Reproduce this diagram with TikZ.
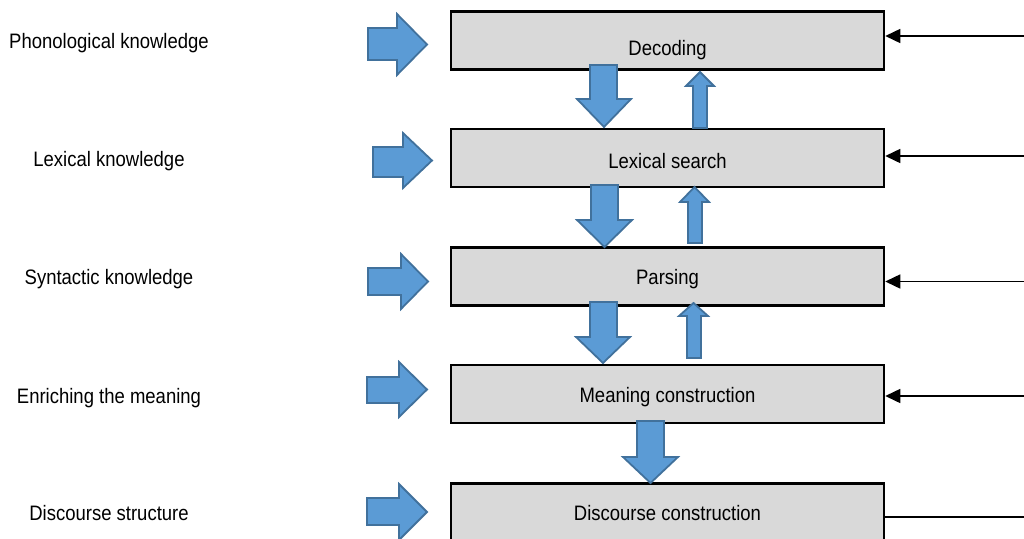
\documentclass[tikz,border=0pt]{standalone}
\usepackage{fontspec}
\setmainfont{Liberation Sans}
\usepackage{graphicx}
\usetikzlibrary{arrows.meta}
\definecolor{boxgray}{HTML}{D9D9D9}
\definecolor{arrowfill}{HTML}{5B9BD5}
\definecolor{arrowedge}{HTML}{41719C}
\newcommand\vs[1]{\scalebox{1}[1.13]{#1}}
\begin{document}
\begin{tikzpicture}[x=1pt,y=-1pt,
  box/.style={draw=black, line width=2.5pt, fill=boxgray, minimum width=433pt,
    minimum height=58pt, inner sep=0pt, text depth=0pt,
    font=\fontsize{18.5}{22}\selectfont},
  lbl/.style={anchor=base, inner sep=0pt, font=\fontsize{18.5}{22}\selectfont},
  barrow/.style={draw=arrowedge, fill=arrowfill, line width=1.8pt, line join=miter},
  conn/.style={line width=1.5pt, -{Triangle[length=15pt,width=14pt]}},
  plainconn/.style={line width=1.5pt}]
\useasboundingbox (0,0) rectangle (1024,538);

% process boxes
\node[box, text height=29.4pt] (b1) at (667.5,40.3) {\vs{Decoding}};
\node[box, text height=20pt]   (b2) at (667.5,158)  {\vs{Lexical search}};
\node[box, text height=15.4pt] (b3) at (667.5,276.3) {\vs{Parsing}};
\node[box, text height=16pt]   (b4) at (667.5,394)  {\vs{Meaning construction}};
\node[box, text height=14.8pt] (b5) at (667.5,512.6) {\vs{Discourse construction}};

% left labels
\node[lbl] (l1) at (109,48)  {\vs{Phonological knowledge}};
\node[lbl] (l2) at (109,166) {\vs{Lexical knowledge}};
\node[lbl] (l3) at (109,284) {\vs{Syntactic knowledge}};
\node[lbl] (l4) at (109,403) {\vs{Enriching the meaning}};
\node[lbl] (l5) at (109,520) {\vs{Discourse structure}};

% right-pointing block arrows
\draw[barrow] (368,28) -- (397,28) -- (397,14) -- (427,44.5) -- (397,75) -- (397,60) -- (368,60) -- cycle;
\draw[barrow] (373,147) -- (403,147) -- (403,133) -- (432,160.5) -- (403,188) -- (403,177) -- (373,177) -- cycle;
\draw[barrow] (368,268) -- (401,268) -- (401,254) -- (428,281.5) -- (401,309) -- (401,295) -- (368,295) -- cycle;
\draw[barrow] (367,377) -- (399,377) -- (399,362) -- (427,389.5) -- (399,417) -- (399,403) -- (367,403) -- cycle;
\draw[barrow] (367,498) -- (399,498) -- (399,484) -- (427,512) -- (399,540) -- (399,525) -- (367,525) -- cycle;

% down block arrows
\draw[barrow] (590,65) -- (617,65) -- (617,99) -- (631,99) -- (604,127) -- (577,99) -- (590,99) -- cycle;
\draw[barrow] (591,185) -- (618,185) -- (618,220) -- (632,220) -- (604.5,247) -- (577,220) -- (591,220) -- cycle;
\draw[barrow] (590,302) -- (617,302) -- (617,337) -- (630,337) -- (603,363) -- (576,337) -- (590,337) -- cycle;
\draw[barrow] (637,421) -- (664,421) -- (664,457) -- (678,457) -- (650.5,483) -- (623,457) -- (637,457) -- cycle;

% up block arrows
\draw[barrow] (693,128) -- (693,86) -- (686,86) -- (700,72) -- (714,86) -- (707,86) -- (707,128) -- cycle;
\draw[barrow] (688,243) -- (688,202) -- (680,202) -- (694.5,187) -- (709,202) -- (702,202) -- (702,243) -- cycle;
\draw[barrow] (687,358) -- (687,316) -- (679,316) -- (693.5,303) -- (708,316) -- (701,316) -- (701,358) -- cycle;

% right-hand connectors
\coordinate (r1) at (1024,36);
\coordinate (r2) at (1024,156);
\coordinate (r3) at (1024,281.5);
\coordinate (r4) at (1024,396);
\coordinate (r5) at (1024,517);
\draw[conn] (r1) -- (r1 -| b1.east);
\draw[conn] (r2) -- (r2 -| b2.east);
\draw[conn] (r3) -- (r3 -| b3.east);
\draw[conn] (r4) -- (r4 -| b4.east);
\draw[plainconn] (r5) -- (r5 -| b5.east);
\end{tikzpicture}
\end{document}
